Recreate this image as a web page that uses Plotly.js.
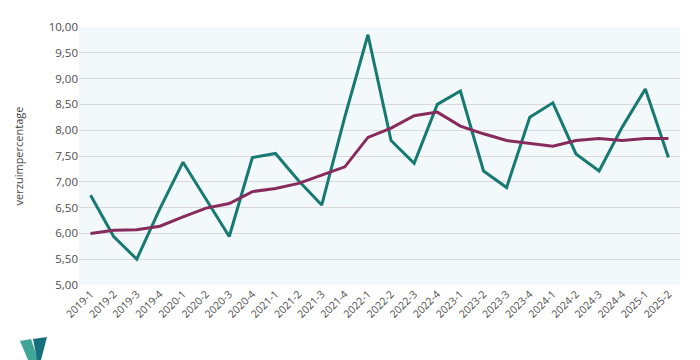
<!DOCTYPE html>
<html>
<head>
<meta charset="utf-8">
<script src="https://cdn.plot.ly/plotly-3.0.1.min.js"></script>
<style>html,body{margin:0;padding:0;background:#fff;}#chart{width:700px;height:360px;}</style>
</head>
<body>
<div id="chart"></div>
<script>
const periods = ["2019-1","2019-2","2019-3","2019-4","2020-1","2020-2","2020-3","2020-4","2021-1","2021-2","2021-3","2021-4","2022-1","2022-2","2022-3","2022-4","2023-1","2023-2","2023-3","2023-4","2024-1","2024-2","2024-3","2024-4","2025-1","2025-2"];
const verzuim = [6.74,5.94,5.50,6.48,7.38,6.66,5.94,7.47,7.55,7.02,6.55,8.26,9.85,7.80,7.36,8.50,8.76,7.21,6.89,8.25,8.53,7.54,7.21,8.06,8.80,7.47];
const voortschrijdend = [6.00,6.06,6.07,6.14,6.32,6.49,6.58,6.81,6.87,6.97,7.13,7.29,7.86,8.04,8.28,8.35,8.08,7.93,7.80,7.75,7.69,7.80,7.84,7.80,7.84,7.84];
const yTicks = [5,5.5,6,6.5,7,7.5,8,8.5,9,9.5,10];

const L=79, R=680, T=27, B=285;
function px(x){return (x-L)/(R-L);}
function py(y){return (B-y)/(B-T);}
function poly(pts){return 'M '+pts.map(p=>px(p[0])+','+py(p[1])).join(' L ')+' Z';}

const traces = [
  {x: periods, y: verzuim, type:'scatter', mode:'lines', name:'verzuimpercentage',
   line:{color:'#177a72', width:3}},
  {x: periods, y: voortschrijdend, type:'scatter', mode:'lines', name:'voortschrijdend gemiddelde',
   line:{color:'#862b5c', width:3}}
];

const layout = {
  width:700, height:360,
  margin:{l:L, r:700-R, t:T, b:360-B},
  paper_bgcolor:'#ffffff', plot_bgcolor:'#f3f8fb',
  showlegend:false,
  separators:',.',
  font:{family:'"Open Sans", "Liberation Sans", sans-serif', color:'#595959', size:11},
  xaxis:{type:'category', range:[-0.5, periods.length-0.5], tickangle:-45,
         showgrid:false, zeroline:false, showline:false, ticks:'',
         tickfont:{size:10.5, color:'#4d4d4d'}},
  yaxis:{range:[5,10], tickvals:yTicks, tickformat:'.2f', showgrid:true, gridcolor:'#d9d9d9',
         gridwidth:1, zeroline:false, showline:false, ticks:'', ticklen:0,
         tickfont:{size:11.5, color:'#4d4d4d'},
         title:{text:'verzuimpercentage', font:{size:11, color:'#404040'}, standoff:22}},
  shapes:[
    {type:'path', xref:'paper', yref:'paper', path: poly([[20,341],[31,339],[38,360],[28,360]]),
     fillcolor:'#3fa596', line:{width:0}},
    {type:'path', xref:'paper', yref:'paper', path: poly([[33,339],[47,337],[41,360],[37,360]]),
     fillcolor:'#17717c', line:{width:0}}
  ]
};

Plotly.newPlot('chart', traces, layout, {displayModeBar:false, staticPlot:true});
</script>
</body>
</html>
